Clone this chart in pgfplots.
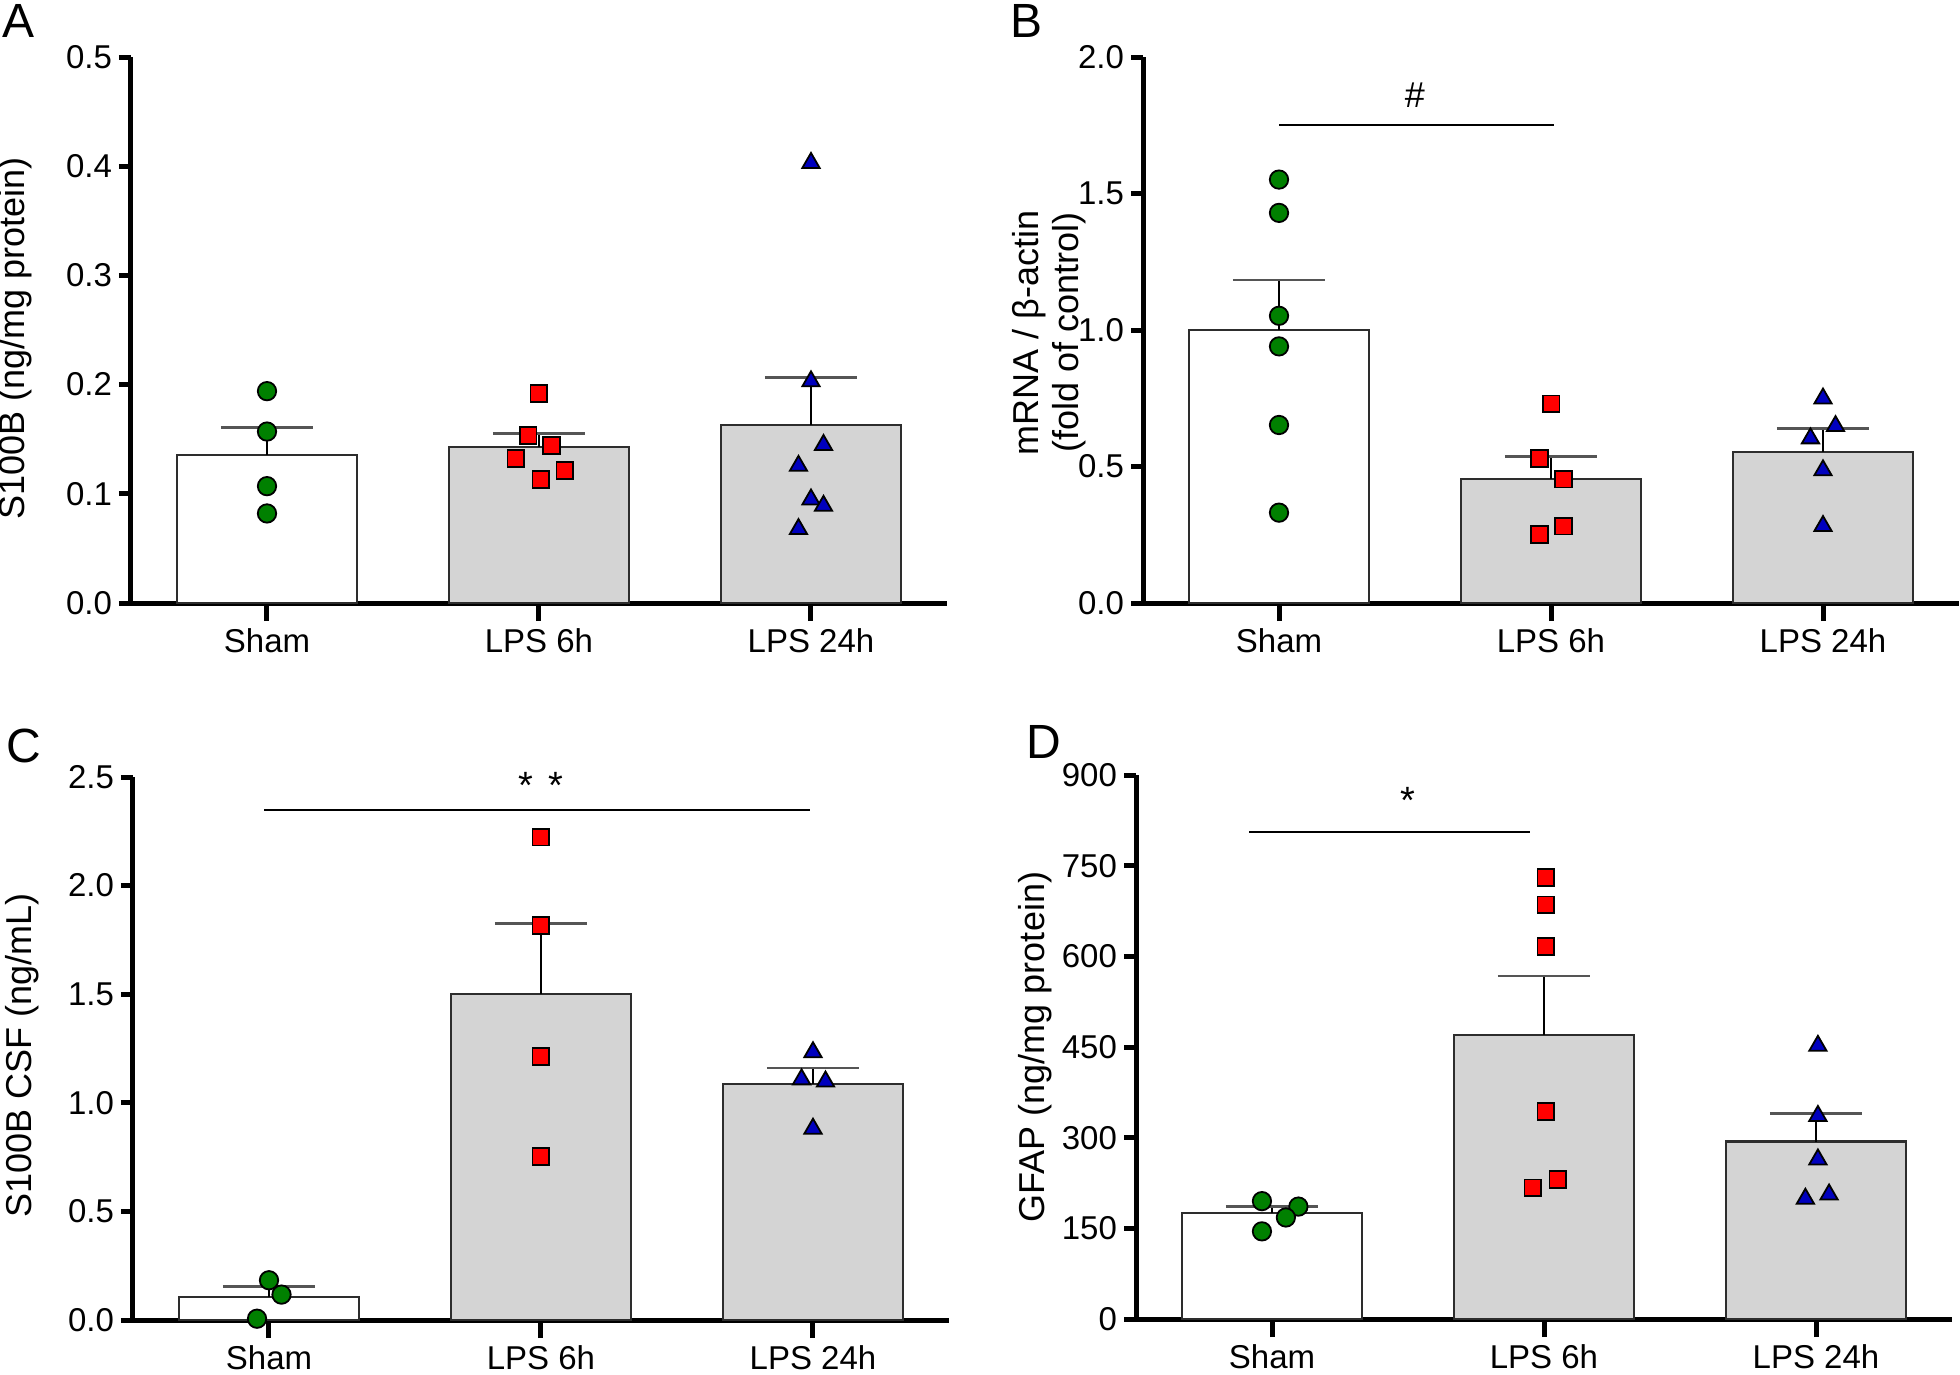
\documentclass[border=0pt]{standalone}
\usepackage{pgfplots}
\pgfplotsset{compat=1.18}
\usepackage{fontspec}
\setmainfont{Liberation Sans}
\definecolor{ptgreen}{RGB}{0,128,0}
\definecolor{ptred}{RGB}{255,0,0}
\definecolor{ptblue}{RGB}{0,0,190}
\definecolor{barfill}{RGB}{212,212,212}
\definecolor{capgray}{RGB}{85,85,85}
\definecolor{bardraw}{RGB}{45,45,45}

\pgfplotsset{
  panel/.style={
    scale only axis, width=408pt, clip=false,
    axis x line=bottom, axis y line=left,
    axis line style={line width=2.5pt, -},
    xmin=-0.5, xmax=2.5, enlargelimits=false,
    xtick={0,1,2}, xticklabels={Sham, LPS 6h, LPS 24h},
    tick align=outside,
    tick style={line width=2.5pt, black},
    major tick length=6pt,
    xtick style={/pgfplots/major tick length=9pt},
    ticklabel style={font=\fontsize{16.5}{19}\selectfont},
    xticklabel style={yshift=-3.5pt},
    /pgf/number format/assume math mode=true,
    label style={font=\fontsize{18}{20}\selectfont},
  },
  barS/.style={ybar, bar shift=0pt, bar width=0.66, fill=white, draw=bardraw, line width=1.2pt},
  barL/.style={ybar, bar shift=0pt, bar width=0.66, fill=barfill, draw=bardraw, line width=1.2pt},
  errv/.style={black, line width=1.2pt, mark=none},
  errc/.style={capgray, line width=1.4pt, mark=none},
  sig/.style={black, line width=1.2pt, mark=none},
  ptG/.style={black, only marks, mark=*, mark size=4.6pt, line width=0.9pt, mark options={fill=ptgreen, solid}},
  ptR/.style={black, only marks, mark=square*, mark size=4.2pt, line width=0.9pt, mark options={fill=ptred, solid}},
  ptB/.style={black, only marks, mark=triangle*, mark size=5pt, line width=0.9pt, mark options={fill=ptblue, solid}},
}

\begin{document}
\begin{tikzpicture}
\useasboundingbox (0,0) rectangle (980pt,-687.5pt);

% Panel letters
\node[anchor=base west, inner sep=0, font=\fontsize{24}{26}\selectfont] at (1pt,-19pt) {A};
\node[anchor=base west, inner sep=0, font=\fontsize{24}{26}\selectfont] at (505pt,-19pt) {B};
\node[anchor=base west, inner sep=0, font=\fontsize{24}{26}\selectfont] at (3pt,-381pt) {C};
\node[anchor=base west, inner sep=0, font=\fontsize{24}{26}\selectfont] at (513pt,-379pt) {D};

% ---------------- Panel A ----------------
\begin{axis}[panel, at={(65.5pt,-301.5pt)}, anchor=south west, height=273pt,
  ymin=0, ymax=0.5, ytick={0,0.1,0.2,0.3,0.4,0.5},
  yticklabel style={/pgf/number format/.cd, fixed, fixed zerofill, precision=1},
  ylabel={S100B (ng/mg protein)},
  ylabel style={at={(axis description cs:-0.1415,0.485)}, anchor=center}]
\addplot[barS] coordinates {(0,0.1357)};
\addplot[barL] coordinates {(1,0.1426)};
\addplot[barL] coordinates {(2,0.163)};
\addplot[errv] coordinates {(0,0.1357) (0,0.1605)};
\addplot[errv] coordinates {(1,0.1426) (1,0.155)};
\addplot[errv] coordinates {(2,0.163) (2,0.2066)};
\addplot[errc] coordinates {(-0.17,0.1605) (0.17,0.1605)};
\addplot[errc] coordinates {(0.83,0.155) (1.17,0.155)};
\addplot[errc] coordinates {(1.83,0.2066) (2.17,0.2066)};
\addplot[ptG] coordinates {(0,0.194) (0,0.157) (0,0.107) (0,0.082)};
\addplot[ptR] coordinates {(1,0.192) (0.96,0.1535) (1.046,0.144) (0.915,0.1325) (1.095,0.1216) (1.007,0.113)};
\addplot[ptB] coordinates {(2,0.403) (2,0.203) (2.046,0.1447) (1.954,0.1256) (2,0.0948) (2.046,0.089) (1.954,0.0677)};
\end{axis}

% ---------------- Panel B ----------------
\begin{axis}[panel, at={(571.5pt,-301.5pt)}, anchor=south west, height=273pt,
  ymin=0, ymax=2, ytick={0,0.5,1,1.5,2},
  yticklabel style={/pgf/number format/.cd, fixed, fixed zerofill, precision=1},
  ylabel={mRNA / β-actin\\(fold of control)},
  ylabel style={at={(axis description cs:-0.115,0.495)}, anchor=center, align=center}]
\addplot[barS] coordinates {(0,1.0)};
\addplot[barL] coordinates {(1,0.454)};
\addplot[barL] coordinates {(2,0.554)};
\addplot[errv] coordinates {(0,1.0) (0,1.183)};
\addplot[errv] coordinates {(1,0.454) (1,0.538)};
\addplot[errv] coordinates {(2,0.554) (2,0.639)};
\addplot[errc] coordinates {(-0.17,1.183) (0.17,1.183)};
\addplot[errc] coordinates {(0.83,0.538) (1.17,0.538)};
\addplot[errc] coordinates {(1.83,0.639) (2.17,0.639)};
\addplot[ptG] coordinates {(0,1.551) (0,1.429) (0,1.052) (0,0.940) (0,0.652) (0,0.331)};
\addplot[ptR] coordinates {(1,0.729) (0.958,0.530) (1.046,0.454) (1.046,0.282) (0.958,0.251)};
\addplot[ptB] coordinates {(2,0.749) (2.046,0.648) (1.954,0.603) (2,0.486) (2,0.282)};
\addplot[sig] coordinates {(0,1.75) (1.01,1.75)};
\node[font=\fontsize{18}{20}\selectfont] at (axis cs:0.5,1.86) {\#};
\end{axis}

% ---------------- Panel C ----------------
\begin{axis}[panel, at={(66.5pt,-660pt)}, anchor=south west, height=271.5pt,
  ymin=0, ymax=2.5, ytick={0,0.5,1,1.5,2,2.5},
  yticklabel style={/pgf/number format/.cd, fixed, fixed zerofill, precision=1},
  ylabel={S100B CSF (ng/mL)},
  ylabel style={at={(axis description cs:-0.136,0.488)}, anchor=center}]
\addplot[barS] coordinates {(0,0.107)};
\addplot[barL] coordinates {(1,1.500)};
\addplot[barL] coordinates {(2,1.086)};
\addplot[errv] coordinates {(0,0.107) (0,0.153)};
\addplot[errv] coordinates {(1,1.500) (1,1.826)};
\addplot[errv] coordinates {(2,1.086) (2,1.160)};
\addplot[errc] coordinates {(-0.17,0.153) (0.17,0.153)};
\addplot[errc] coordinates {(0.83,1.826) (1.17,1.826)};
\addplot[errc] coordinates {(1.83,1.160) (2.17,1.160)};
\addplot[ptG] coordinates {(0,0.183) (0.046,0.117) (-0.044,0.006)};
\addplot[ptR] coordinates {(1,2.223) (1,1.816) (1,1.213) (1,0.754)};
\addplot[ptB] coordinates {(2,1.233) (1.958,1.108) (2.046,1.098) (2,0.881)};
\addplot[sig] coordinates {(-0.017,2.349) (1.99,2.349)};
\node[font=\fontsize{19}{21}\selectfont] at (axis cs:1.0,2.46) {*\hspace{8pt}*};
\end{axis}

% ---------------- Panel D ----------------
\begin{axis}[panel, at={(568pt,-659.5pt)}, anchor=south west, height=272pt,
  ymin=0, ymax=900, ytick={0,150,300,450,600,750,900},
  ylabel={GFAP (ng/mg protein)},
  ylabel style={at={(axis description cs:-0.124,0.5)}, anchor=center}]
\addplot[barS] coordinates {(0,175)};
\addplot[barL] coordinates {(1,470)};
\addplot[barL] coordinates {(2,293.5)};
\addplot[errv] coordinates {(0,175) (0,186.5)};
\addplot[errv] coordinates {(1,470) (1,567.5)};
\addplot[errv] coordinates {(2,293.5) (2,340)};
\addplot[errc] coordinates {(-0.17,186.5) (0.17,186.5)};
\addplot[errc] coordinates {(0.83,567.5) (1.17,567.5)};
\addplot[errc] coordinates {(1.83,340) (2.17,340)};
\addplot[ptG] coordinates {(-0.037,195) (0.097,186) (0.051,168) (-0.037,145)};
\addplot[ptR] coordinates {(1.007,730) (1.007,685) (1.007,616) (1.007,343) (1.051,231) (0.959,217)};
\addplot[ptB] coordinates {(2.007,452) (2.007,336) (2.007,264) (2.048,206) (1.961,199)};
\addplot[sig] coordinates {(-0.083,806) (0.947,806)};
\node[font=\fontsize{19}{21}\selectfont] at (axis cs:0.5,858) {*};
\end{axis}
\end{tikzpicture}
\end{document}
